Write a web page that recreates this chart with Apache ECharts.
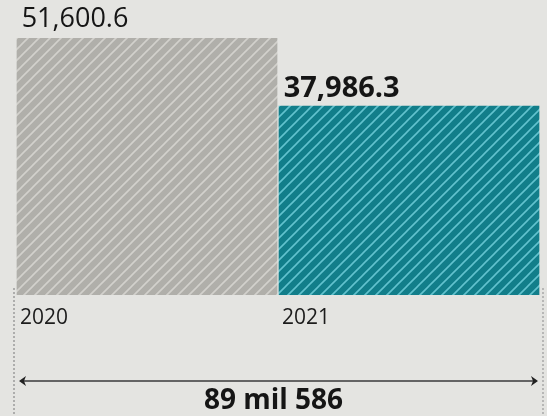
<!DOCTYPE html>
<html><head><meta charset="utf-8">
<script src="https://cdn.jsdelivr.net/npm/echarts@6/dist/echarts.min.js"></script>
<style>html,body{margin:0;padding:0;background:#e4e4e1;}#c{width:547px;height:416px;}</style>
</head><body><div id="c"></div>
<script>
var categories = ['2020', '2021'];
var values = [51600.6, 37986.3];
var barColors = ['#b0afaa', '#127e8a'];
var stripeColors = ['#d2d1cc', '#62c2ce'];

function stripes(bg, fg) {
  var s = 11, cv = document.createElement('canvas');
  cv.width = s; cv.height = s;
  var g = cv.getContext('2d');
  g.fillStyle = bg; g.fillRect(0, 0, s, s);
  g.strokeStyle = fg; g.lineWidth = 1.6;
  g.beginPath();
  g.moveTo(-2, s + 2); g.lineTo(s + 2, -2);
  g.moveTo(-2, 2); g.lineTo(2, -2);
  g.moveTo(s - 2, s + 2); g.lineTo(s + 2, s - 2);
  g.stroke();
  return cv;
}
function fmt(v) {
  return v.toLocaleString('en-US', {minimumFractionDigits: 1, maximumFractionDigits: 1});
}
var total = Math.floor(values.reduce(function (a, b) { return a + b; }, 0));
var totalText = Math.floor(total / 1000) + ' mil ' + String(total % 1000).padStart(3, '0');

var chart = echarts.init(document.getElementById('c'));
chart.setOption({
  backgroundColor: '#e4e4e1',
  animation: false,
  grid: {left: 16, right: 7, top: 38, bottom: 121},
  xAxis: {
    type: 'category', data: categories,
    axisLine: {show: false}, axisTick: {show: false},
    axisLabel: {
      margin: 13, align: 'center',
      formatter: function (v) { return '{a|' + v + '}'; },
      rich: {a: {width: 254, align: 'left', fontFamily: 'Open Sans', fontSize: 21, color: '#1c1c1c'}}
    }
  },
  yAxis: {type: 'value', min: 0, max: 'dataMax', show: false},
  series: [{
    type: 'bar',
    barCategoryGap: '0.5%',
    data: values.map(function (v, i) {
      return {
        value: v,
        itemStyle: {color: {image: stripes(barColors[i], stripeColors[i]), repeat: 'repeat'}},
        label: i === 1 ? {fontWeight: 'bold', fontSize: 29, position: [5, -32]} : {fontWeight: 'normal', fontSize: 27, position: [5, -32]}
      };
    }),
    label: {
      show: true,
      fontFamily: 'Open Sans', color: '#151515',
      formatter: function (p) { return fmt(p.value); }
    }
  }],
  title: {
    text: totalText, left: 'center', top: 382,
    textStyle: {fontFamily: 'Open Sans', fontWeight: 'bold', fontSize: 28, color: '#151515'}
  },
  graphic: [
    {type: 'line', shape: {x1: 22, y1: 381, x2: 535, y2: 381}, style: {stroke: '#3a3a3a', lineWidth: 1.5}},
    {type: 'polygon', shape: {points: [[19, 381], [26, 376], [24, 381], [26, 386]]}, style: {fill: '#222'}},
    {type: 'polygon', shape: {points: [[538, 381], [531, 376], [533, 381], [531, 386]]}, style: {fill: '#222'}},
    {type: 'line', shape: {x1: 14, y1: 288, x2: 14, y2: 416}, style: {stroke: '#8a8a8a', lineWidth: 1.2, lineDash: [2, 2]}},
    {type: 'line', shape: {x1: 543, y1: 288, x2: 543, y2: 416}, style: {stroke: '#9a9a9a', lineWidth: 1.2, lineDash: [2, 2]}}
  ]
});
</script></body></html>
